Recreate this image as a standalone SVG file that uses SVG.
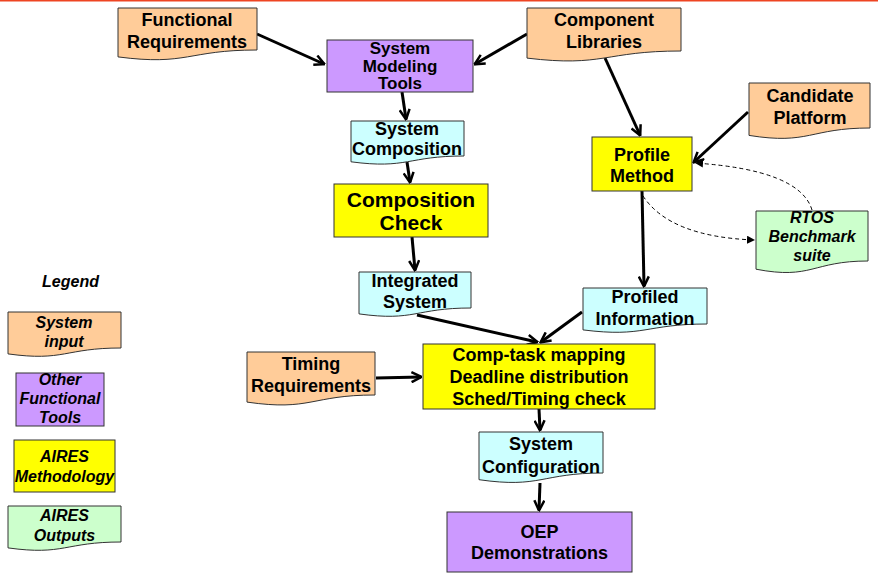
<svg xmlns="http://www.w3.org/2000/svg" width="878" height="586" viewBox="0 0 878 586">
  <defs>
    <style>
      .node { stroke: #333; stroke-width: 1; }
      .input { fill: #FFCC99; }
      .tool { fill: #CC99FF; }
      .method { fill: #FFFF00; }
      .data { fill: #CCFFFF; }
      .output { fill: #CCFFCC; }
      text { font-family: "Liberation Sans", Arial, sans-serif; font-weight: bold; text-anchor: middle; fill: #000; font-size: 18px; }
      .it { font-style: italic; font-size: 16px; }
      .big { font-size: 21px; }
      .tight { font-size: 17px; }
      .flow { stroke: #000; stroke-width: 3; fill: none; marker-end: url(#open); }
      .dash { stroke: #000; stroke-width: 1; fill: none; stroke-dasharray: 4 3; marker-end: url(#tri); }
    </style>
    <marker id="open" viewBox="0 0 12 12" refX="10.5" refY="6" markerWidth="12" markerHeight="12" markerUnits="userSpaceOnUse" orient="auto">
      <path d="M1,1 L11,6 L1,11" stroke="#000" stroke-width="2.5" fill="none"/>
    </marker>
    <marker id="tri" viewBox="0 0 8 8" refX="8" refY="4" markerWidth="8" markerHeight="8" markerUnits="userSpaceOnUse" orient="auto">
      <path d="M0,0 L8,4 L0,8 Z" fill="#000"/>
    </marker>
  </defs>

  <!-- header rule -->
  <rect x="0" y="0" width="878" height="1.5" fill="#EE4422"/>

  <!-- connectors -->
  <g id="connectors">
    <path class="flow" d="M257,34 L324,64"/>
    <path class="flow" d="M527,34 L475,64"/>
    <path class="flow" d="M402,92 L406,119"/>
    <path class="flow" d="M407,162 L410,182"/>
    <path class="flow" d="M412,237 L415,270"/>
    <path class="flow" d="M605,58 L640,135"/>
    <path class="flow" d="M748,112 L694,162"/>
    <path class="flow" d="M642,191 L644,286"/>
    <path class="dash" d="M812,210 Q800,170 695,163"/>
    <path class="dash" d="M643,196 Q670,237 755,240"/>
    <path class="flow" d="M417,315 L537,342"/>
    <path class="flow" d="M582,312 L541,342"/>
    <path class="flow" d="M376,378 L421,377"/>
    <path class="flow" d="M539,409 L540,430"/>
    <path class="flow" d="M540,483 L539,510"/>
  </g>

  <g id="functional-requirements">
    <path class="node input" d="M118,8 H257 V50 C187.5,50 187.5,66 118,56.9 Z"/>
    <text x="187" y="26">Functional</text>
    <text x="187" y="48">Requirements</text>
  </g>

  <g id="component-libraries">
    <path class="node input" d="M527,8 H681 V51 C604,51 604,67.4 527,58.1 Z"/>
    <text x="604" y="26">Component</text>
    <text x="604" y="48">Libraries</text>
  </g>

  <g id="system-modeling-tools">
    <rect class="node tool" x="327" y="40" width="146" height="52"/>
    <text class="tight" x="400" y="54">System</text>
    <text class="tight" x="400" y="71.5">Modeling</text>
    <text class="tight" x="400" y="89">Tools</text>
  </g>

  <g id="candidate-platform">
    <path class="node input" d="M749,83 H870 V128 C809.5,128 809.5,145.1 749,135.4 Z"/>
    <text x="810" y="102">Candidate</text>
    <text x="810" y="124">Platform</text>
  </g>

  <g id="profile-method">
    <rect class="node method" x="592" y="137" width="100" height="54"/>
    <text x="642" y="161">Profile</text>
    <text x="642" y="182">Method</text>
  </g>

  <g id="rtos-benchmark">
    <path class="node output" d="M756,211 H868 V261 C812,261 812,280 756,269.2 Z"/>
    <text class="it" x="812" y="223">RTOS</text>
    <text class="it" x="812" y="242">Benchmark</text>
    <text class="it" x="812" y="261">suite</text>
  </g>

  <g id="system-composition">
    <path class="node data" d="M351,121 H464 V156 C407.5,156 407.5,169.3 351,161.8 Z"/>
    <text x="407" y="135">System</text>
    <text x="407" y="155">Composition</text>
  </g>

  <g id="composition-check">
    <rect class="node method" x="334" y="184" width="154" height="53"/>
    <text class="big" x="411" y="207">Composition</text>
    <text class="big" x="411" y="230">Check</text>
  </g>

  <g id="integrated-system">
    <path class="node data" d="M359,272 H471 V308 C415,308 415,321.7 359,313.9 Z"/>
    <text x="415" y="287">Integrated</text>
    <text x="415" y="308">System</text>
  </g>

  <g id="profiled-information">
    <path class="node data" d="M583,288 H707 V324 C645,324 645,337.7 583,329.9 Z"/>
    <text x="645" y="303">Profiled</text>
    <text x="645" y="325">Information</text>
  </g>

  <g id="timing-requirements">
    <path class="node input" d="M247,352 H375 V395 C311,395 311,411.4 247,402.1 Z"/>
    <text x="311" y="370">Timing</text>
    <text x="311" y="392">Requirements</text>
  </g>

  <g id="mapping-check">
    <rect class="node method" x="423" y="344" width="232" height="65"/>
    <text x="539" y="361">Comp-task mapping</text>
    <text x="539" y="383">Deadline distribution</text>
    <text x="539" y="405">Sched/Timing check</text>
  </g>

  <g id="system-configuration">
    <path class="node data" d="M479,432 H603 V473 C541,473 541,488.6 479,479.7 Z"/>
    <text x="541" y="450">System</text>
    <text x="541" y="473">Configuration</text>
  </g>

  <g id="oep-demonstrations">
    <rect class="node tool" x="447" y="512" width="185" height="60"/>
    <text x="539.5" y="538">OEP</text>
    <text x="539.5" y="559">Demonstrations</text>
  </g>

  <!-- legend -->
  <g id="legend">
    <text class="it" x="70.5" y="287">Legend</text>
  </g>
  <g id="legend-system-input">
    <path class="node input" d="M8,312 H121 V348 C64.5,348 64.5,361.7 8,353.9 Z"/>
    <text class="it" x="64" y="328">System</text>
    <text class="it" x="64" y="347">input</text>
  </g>
  <g id="legend-other-tools">
    <rect class="node tool" x="16" y="373" width="88" height="53"/>
    <text class="it" x="60" y="385">Other</text>
    <text class="it" x="60" y="404">Functional</text>
    <text class="it" x="60" y="423">Tools</text>
  </g>
  <g id="legend-aires-methodology">
    <rect class="node method" x="14" y="440" width="101" height="52"/>
    <text class="it" x="64.5" y="462">AIRES</text>
    <text class="it" x="64.5" y="482">Methodology</text>
  </g>
  <g id="legend-aires-outputs">
    <path class="node output" d="M8,506 H121 V542 C64.5,542 64.5,555.7 8,547.9 Z"/>
    <text class="it" x="64.5" y="521">AIRES</text>
    <text class="it" x="64.5" y="541">Outputs</text>
  </g>
</svg>
